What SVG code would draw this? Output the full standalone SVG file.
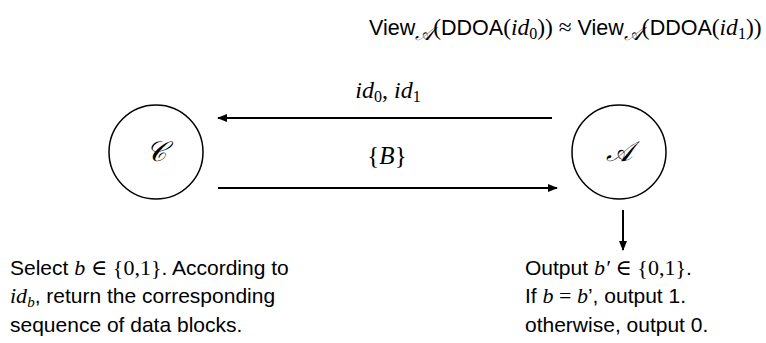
<svg xmlns="http://www.w3.org/2000/svg" width="766" height="343" viewBox="0 0 766 343">
<defs>
<marker id="ah" viewBox="0 0 10 10" refX="9" refY="5" markerWidth="10" markerHeight="10" markerUnits="userSpaceOnUse" orient="auto">
<path d="M0,1 L10,5 L0,9 z" fill="#000"/>
</marker>
<style>
.sans{font-family:"Liberation Sans",Arial,sans-serif;}
.m{font-family:"Liberation Serif","DejaVu Serif",serif;}
.mi{font-family:"Liberation Serif","DejaVu Serif",serif;font-style:italic;}
.body{font-family:"Liberation Sans",Arial,sans-serif;font-size:21px;fill:#000;}
.node{fill:#fff;stroke:#000;stroke-width:1.5;}
.edge{stroke:#000;stroke-width:2;fill:none;marker-end:url(#ah);}
</style>
</defs>
<rect width="766" height="343" fill="#fff"/>
<g id="title">
<text x="369" y="35" font-size="21.5" class="sans"><tspan>View</tspan><tspan class="mi" font-size="19" dy="5">𝒜</tspan><tspan class="m" font-size="23.5" dy="-5">(</tspan><tspan>DDOA</tspan><tspan class="m" font-size="23.5">(</tspan><tspan class="mi" font-size="23.5">id</tspan><tspan class="m" font-size="16" dy="4">0</tspan><tspan class="m" font-size="23.5" dy="-4">)) ≈ </tspan><tspan>View</tspan><tspan class="mi" font-size="19" dy="5">𝒜</tspan><tspan class="m" font-size="23.5" dy="-5">(</tspan><tspan>DDOA</tspan><tspan class="m" font-size="23.5">(</tspan><tspan class="mi" font-size="23.5">id</tspan><tspan class="m" font-size="16" dy="4">1</tspan><tspan class="m" font-size="23.5" dy="-4">))</tspan></text>
</g>
<g id="node-C">
<circle class="node" cx="156" cy="152" r="47"/>
<text x="156" y="161" text-anchor="middle" font-size="28" class="mi">𝒞</text>
</g>
<g id="node-A">
<circle class="node" cx="619" cy="152" r="47"/>
<text x="619" y="161" text-anchor="middle" font-size="28" class="mi">𝒜</text>
</g>
<g id="connectors">
<line class="edge" x1="552" y1="118" x2="218" y2="118"/>
<line class="edge" x1="218" y1="188" x2="557" y2="188"/>
<line class="edge" x1="623" y1="210" x2="623" y2="250"/>
</g>
<g id="edge-labels">
<text x="388" y="98" text-anchor="middle" font-size="24" class="m"><tspan class="mi">id</tspan><tspan font-size="16" dy="4">0</tspan><tspan dy="-4">, </tspan><tspan class="mi">id</tspan><tspan font-size="16" dy="4">1</tspan></text>
<text x="387" y="164" text-anchor="middle" font-size="25" class="m">{<tspan class="mi">B</tspan>}</text>
</g>
<g id="note-C">
<text x="10" y="275" class="body">Select <tspan class="mi" font-size="22">b</tspan> <tspan class="m" font-size="22">∈ {0,1}</tspan>. According to</text>
<text x="10" y="303" class="body"><tspan class="mi" font-size="22">id</tspan><tspan class="mi" font-size="15" dy="4">b</tspan><tspan dy="-4">, return the corresponding</tspan></text>
<text x="10" y="332" class="body">sequence of data blocks.</text>
</g>
<g id="note-A">
<text x="525" y="275" class="body">Output <tspan class="mi" font-size="22">b′</tspan> <tspan class="m" font-size="22">∈ {0,1}</tspan>.</text>
<text x="525" y="303" class="body">If <tspan class="mi" font-size="22">b</tspan><tspan class="m" font-size="22"> = </tspan><tspan class="mi" font-size="22">b</tspan>’, output 1.</text>
<text x="525" y="332" class="body">otherwise, output 0.</text>
</g>
</svg>
